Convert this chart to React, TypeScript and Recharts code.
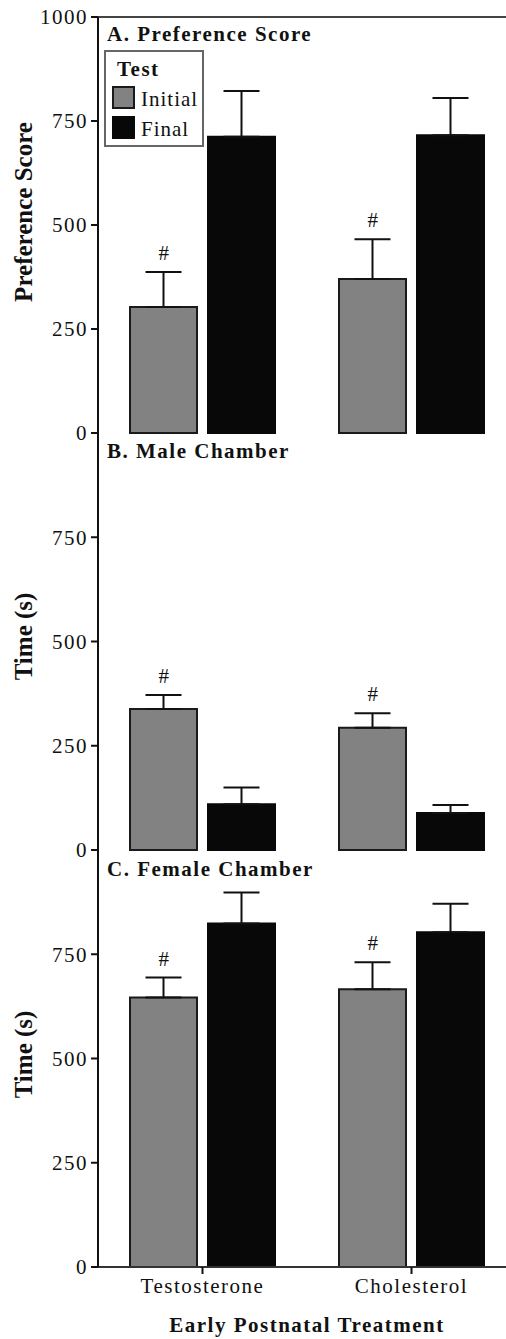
import React from "react";
import { BarChart, Bar, XAxis, YAxis, ErrorBar, LabelList, ReferenceLine } from "recharts";

const categories = ["Testosterone", "Cholesterol"];

const prefInitial = [303, 370];
const prefInitialErr = [84, 96];
const prefFinal = [712, 716];
const prefFinalErr = [110, 89];

const maleInitial = [338, 293];
const maleInitialErr = [34, 35];
const maleFinal = [110, 89];
const maleFinalErr = [40, 19];

const femaleInitial = [646, 666];
const femaleInitialErr = [48, 65];
const femaleFinal = [824, 803];
const femaleFinalErr = [74, 68];

const sigMarks = ["#", "#"];

const yTicksA = [0, 250, 500, 750, 1000];
const yTicksBC = [0, 250, 500, 750];

const panelTitles = ["A. Preference Score", "B. Male Chamber", "C. Female Chamber"];
const yTitles = ["Preference Score", "Time (s)", "Time (s)"];
const xTitle = "Early Postnatal Treatment";
const legendTitle = "Test";
const seriesNames = ["Initial", "Final"];

const GRAY = "#828282";
const BLACK = "#080808";
const INK = "#111";
const FONT = "'Liberation Serif', 'Times New Roman', serif";

function buildRows(ini: number[], iniErr: number[], fin: number[], finErr: number[]) {
  return categories.map((c, i) => ({
    category: c,
    initial: ini[i],
    initialErr: [0, iniErr[i]],
    final: fin[i],
    finalErr: [0, finErr[i]],
    mark: sigMarks[i],
  }));
}

const rowsA = buildRows(prefInitial, prefInitialErr, prefFinal, prefFinalErr);
const rowsB = buildRows(maleInitial, maleInitialErr, maleFinal, maleFinalErr);
const rowsC = buildRows(femaleInitial, femaleInitialErr, femaleFinal, femaleFinalErr);

const yLabel = (text: string, dy: number) => (props: any) => {
  const vb = props.viewBox || {};
  const cx = vb.x - 15;
  const cy = vb.y + vb.height / 2 + dy;
  return (
    <text
      x={cx}
      y={cy}
      transform={`rotate(-90 ${cx} ${cy})`}
      textAnchor="middle"
      dominantBaseline="central"
      fontWeight="bold"
      fontSize={25}
      fill={INK}
      style={{ letterSpacing: 0 }}
    >
      {text}
    </text>
  );
};

const markLabel = (props: any) => {
  const { x, y, width, height, value } = props;
  if (!value || typeof value !== "object") return null;
  const pxPerUnit = height / value.v;
  const errTop = y - value.e * pxPerUnit;
  return (
    <text x={x + width / 2 + 1} y={errTop - 12} textAnchor="middle" fontSize={21} fill={INK}>
      {value.m}
    </text>
  );
};

const xLabel = (props: any) => {
  const vb = props.viewBox || {};
  return (
    <text
      x={vb.x + vb.width / 2}
      y={vb.y + vb.height - 7}
      textAnchor="middle"
      fontWeight="bold"
      fontSize={21}
      fill={INK}
    >
      {xTitle}
    </text>
  );
};

function Panel(props: {
  rows: any[];
  top: number;
  height: number;
  marginTop: number;
  marginBottom: number;
  ticks: number[];
  title: string;
  titleDy: number;
  showX: boolean;
  frameTop: boolean;
}) {
  const { rows, top, height, marginTop, marginBottom, ticks, title, titleDy, showX, frameTop } = props;
  return (
    <div style={{ position: "absolute", left: 0, top }}>
      <BarChart
        width={520}
        height={height}
        data={rows}
        margin={{ top: marginTop, right: 4, bottom: marginBottom, left: 38 }}
        barSize={67}
        barGap={11}
      >
        {showX ? (
          <XAxis
            dataKey="category"
            height={72}
            axisLine={{ stroke: "#333", strokeWidth: 2 }}
            tickLine={{ stroke: INK, strokeWidth: 2 }}
            tickSize={7}
            tickMargin={4}
            tick={{ fontSize: 21, fill: INK }}
            label={xLabel}
          />
        ) : (
          <XAxis
            dataKey="category"
            height={0}
            tick={false}
            tickLine={false}
            axisLine={{ stroke: "#333", strokeWidth: 2 }}
          />
        )}
        <YAxis
          type="number"
          domain={[0, 1000]}
          ticks={ticks}
          interval={0}
          width={60}
          axisLine={{ stroke: INK, strokeWidth: 2 }}
          tickLine={{ stroke: INK, strokeWidth: 2 }}
          tickSize={7}
          tickMargin={3}
          tick={{ fontSize: 21, fill: INK }}
          label={yLabel(title, titleDy)}
        />
        {frameTop && <ReferenceLine y={1000} stroke="#444" strokeWidth={2} />}
        <Bar dataKey="initial" fill={GRAY} stroke="#1a1a1a" strokeWidth={2} isAnimationActive={false}>
          <ErrorBar dataKey="initialErr" width={18} stroke={INK} strokeWidth={2} direction="y" />
          <LabelList
            dataKey={(d: any) => ({ v: d.initial, e: d.initialErr[1], m: d.mark })}
            content={markLabel}
          />
        </Bar>
        <Bar dataKey="final" fill={BLACK} stroke={BLACK} strokeWidth={2} isAnimationActive={false}>
          <ErrorBar dataKey="finalErr" width={18} stroke={INK} strokeWidth={2} direction="y" />
        </Bar>
      </BarChart>
    </div>
  );
}

export default function App() {
  return (
    <div
      style={{
        position: "absolute",
        left: 0,
        top: 0,
        width: 506,
        height: 1339,
        overflow: "hidden",
        background: "#fff",
        fontFamily: FONT,
        letterSpacing: "1.5px",
      }}
    >
      <Panel rows={rowsA} top={0} height={450} marginTop={17} marginBottom={17} ticks={yTicksA} title={yTitles[0]} titleDy={-13} showX={false} frameTop={true} />
      <Panel rows={rowsB} top={420} height={450} marginTop={13} marginBottom={20} ticks={yTicksBC} title={yTitles[1]} titleDy={-5} showX={false} frameTop={false} />
      <Panel rows={rowsC} top={840} height={499} marginTop={10} marginBottom={0} ticks={yTicksBC} title={yTitles[2]} titleDy={-4} showX={true} frameTop={false} />
      <svg
        width={506}
        height={1339}
        style={{ position: "absolute", left: 0, top: 0, pointerEvents: "none" }}
      >
        <text x={107} y={41} fontWeight="bold" fontSize={21} fill={INK}>{panelTitles[0]}</text>
        <text x={107} y={458} fontWeight="bold" fontSize={21} fill={INK}>{panelTitles[1]}</text>
        <text x={107} y={876} fontWeight="bold" fontSize={21} fill={INK}>{panelTitles[2]}</text>
        <g>
          <rect x={105} y={51} width={98} height={95} fill="#fff" stroke="#666" strokeWidth={2} />
          <text x={117} y={76} fontWeight="bold" fontSize={21} fill={INK}>{legendTitle}</text>
          <rect x={113} y={87} width={21} height={21} fill={GRAY} stroke="#1a1a1a" strokeWidth={2} />
          <text x={141} y={106} fontSize={21} fill={INK} style={{ letterSpacing: "1px" }}>{seriesNames[0]}</text>
          <rect x={113} y={117} width={21} height={21} fill={BLACK} stroke={BLACK} strokeWidth={2} />
          <text x={141} y={136} fontSize={21} fill={INK} style={{ letterSpacing: "1px" }}>{seriesNames[1]}</text>
        </g>
      </svg>
    </div>
  );
}
